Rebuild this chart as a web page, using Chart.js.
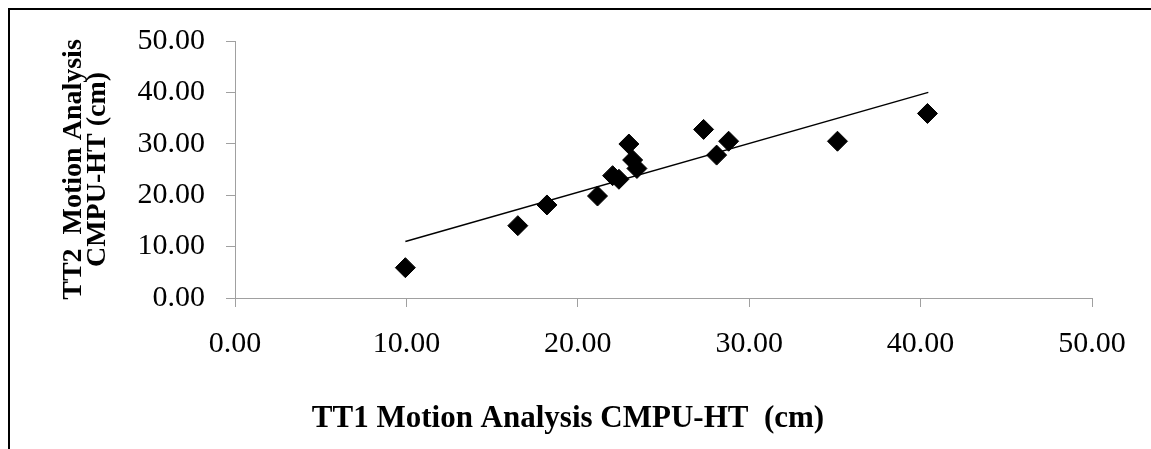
<!DOCTYPE html>
<html>
<head>
<meta charset="utf-8">
<script src="https://cdn.jsdelivr.net/npm/chart.js@4"></script>
<style>
  html, body { margin: 0; padding: 0; background: #fff; }
  #wrap { position: relative; width: 1151px; height: 449px; overflow: hidden; }
  #frame { position: absolute; left: 8px; top: 8px; width: 1200px; height: 500px;
           border-left: 2px solid #000; border-top: 2px solid #000; }
  #chart { position: absolute; left: 0; top: 0; }
</style>
</head>
<body>
<div id="wrap">
  <div id="frame"></div>
  <canvas id="chart" width="1151" height="449"></canvas>
</div>
<script>

var tt1 = [9.94, 16.5, 18.2, 21.15, 22.03, 22.4, 22.98, 23.2, 23.45, 27.34, 28.1, 28.8, 35.15, 40.4];
var tt2 = [5.9, 14.07, 18.1, 19.84, 23.8, 23.1, 29.96, 26.85, 25.2, 32.8, 27.8, 30.5, 30.5, 35.9];

// trendline end points
var trendX = [9.94, 40.45];
var trendY = [11.0, 40.0];

var xTitle = "TT1 Motion Analysis CMPU-HT  (cm)";
var yTitle = ["TT2  Motion Analysis", "CMPU-HT (cm)"];

var axisMin = 0, axisMax = 50, axisStep = 10;

function toPoints(xs, ys){
	return xs.map(function(x, i){ return {x: x, y: ys[i]}; });
}

var serif = "'Liberation Serif', 'Times New Roman', serif";
var tickFont = { family: serif, size: 30 };

// x axis title sits left of the axis centre in the original, so it is drawn here
var xTitlePlugin = {
	id: 'xTitle',
	afterDraw: function(chart){
		var c = chart.ctx;
		c.save();
		c.font = "bold 31px " + serif;
		c.fillStyle = '#000';
		c.textAlign = 'center';
		c.textBaseline = 'middle';
		c.fillText(xTitle, 568, 419);
		c.restore();
	}
};

var ctx = document.getElementById("chart").getContext("2d");

var myChart = new Chart(ctx, {
	type: 'scatter',
	data: {
		datasets: [
		{
			data: toPoints(tt1, tt2),
			pointStyle: 'rectRot',
			pointRadius: 10,
			pointBorderWidth: 1,
			backgroundColor: '#000',
			borderColor: '#000',
			order: 1
		},
		{
			type: 'line',
			data: toPoints(trendX, trendY),
			borderColor: '#000',
			borderWidth: 1.5,
			pointRadius: 0,
			fill: false,
			order: 2
		}]
	},
	plugins: [xTitlePlugin],
	options: {
		responsive: false,
		animation: false,
		layout: { padding: { left: 50, top: 41, right: 59, bottom: 0 } },
		plugins: {
			legend: { display: false },
			tooltip: { enabled: false }
		},
		scales: {
			x: {
				type: 'linear',
				min: axisMin, max: axisMax,
				afterFit: function(s){ s.height = 151; },
				grid: { drawOnChartArea: false, tickLength: 9, color: '#a0a0a0' },
				border: { color: '#a0a0a0', width: 1 },
				ticks: {
					stepSize: axisStep,
					padding: 19,
					color: '#000',
					font: tickFont,
					maxRotation: 0,
					callback: function(v){ return v.toFixed(2); }
				}
			},
			y: {
				type: 'linear',
				min: axisMin, max: axisMax,
				afterFit: function(s){ s.width = 185; },
				grid: { drawOnChartArea: false, tickLength: 9, color: '#a0a0a0' },
				border: { color: '#a0a0a0', width: 1 },
				ticks: {
					stepSize: axisStep,
					padding: 21,
					color: '#000',
					font: tickFont,
					callback: function(v){ return v.toFixed(2); }
				},
				title: {
					display: true,
					text: yTitle,
					color: '#000',
					font: { family: serif, size: 28, weight: 'bold', lineHeight: 0.86 },
					padding: { top: 12, bottom: 0 }
				}
			}
		}
	}
});
</script>
</body>
</html>
